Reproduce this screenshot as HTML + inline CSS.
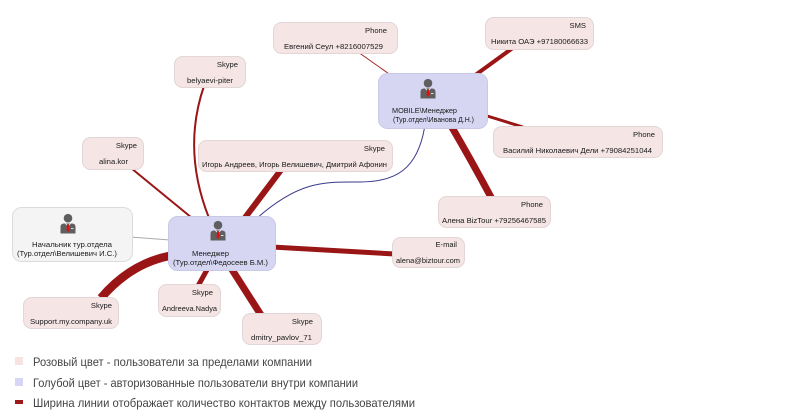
<!DOCTYPE html>
<html><head><meta charset="utf-8"><style>
html,body{margin:0;padding:0;background:#fff;}
svg{display:block;}
text{font-family:"Liberation Sans","DejaVu Sans",sans-serif;}
.t{font-size:7.6px;fill:#1a1a1a;font-family:"DejaVu Sans","Liberation Sans",sans-serif;}
.lg{font-size:12px;fill:#444;}
</style></head><body>
<svg width="800" height="419" viewBox="0 0 800 419" xmlns="http://www.w3.org/2000/svg">
<defs>
<g id="person">
  <circle cx="0" cy="4.2" r="4.3" fill="#5f5f5f"/>
  <path d="M-7.5 19.5 L-7.5 13 Q-7.5 9.5 -4 9.5 L4 9.5 Q7.5 9.5 7.5 13 L7.5 19.5 Z" fill="#5f5f5f"/>
  <path d="M-2.6 9.5 L0 12 L2.6 9.5" fill="none" stroke="#fff" stroke-width="0.8"/>
  <polygon points="-0.9,10.5 0.9,10.5 1.5,16 0,18 -1.5,16" fill="#e01010"/>
  <rect x="3" y="14" width="2.5" height="0.8" fill="#fff"/>
</g>
</defs>

<!-- connectors -->
<g fill="none" stroke-linecap="butt">
  <line x1="358" y1="52" x2="392" y2="76" stroke="#a52222" stroke-width="1"/>
  <line x1="514" y1="47" x2="474" y2="76" stroke="#9a1616" stroke-width="4"/>
  <line x1="484" y1="115" x2="523" y2="127" stroke="#9a1616" stroke-width="3"/>
  <path d="M450 124 Q470 158 492 199" stroke="#9a1616" stroke-width="7"/>
  <path d="M425 125 C418 170 395 182 360 182 S300 180 256 219" stroke="#3a3a8c" stroke-width="1"/>
  <line x1="281" y1="170" x2="244" y2="219" stroke="#9a1616" stroke-width="6"/>
  <path d="M204 86 Q182 150 209 218" stroke="#9a1616" stroke-width="2"/>
  <line x1="131" y1="168" x2="192" y2="218" stroke="#9a1616" stroke-width="2"/>
  <line x1="130" y1="237" x2="170" y2="240" stroke="#aaaaaa" stroke-width="1"/>
  <line x1="272" y1="247" x2="395" y2="254" stroke="#9a1616" stroke-width="5"/>
  <path d="M101 298 Q130 264 169 256" stroke="#9a1616" stroke-width="8.5"/>
  <line x1="198" y1="286" x2="208" y2="268" stroke="#9a1616" stroke-width="5"/>
  <line x1="261" y1="315" x2="231" y2="268" stroke="#9a1616" stroke-width="7"/>
</g>

<!-- pink nodes -->
<g fill="#f5e5e5" stroke="#e2d6d6" stroke-width="1">
  <rect x="273.5" y="22.5" width="124" height="31" rx="8"/>
  <rect x="174.5" y="56.5" width="71" height="31" rx="8"/>
  <rect x="82.5" y="137.5" width="61" height="32" rx="8"/>
  <rect x="198.5" y="140.5" width="194" height="31" rx="8"/>
  <rect x="485.5" y="17.5" width="108" height="32" rx="8"/>
  <rect x="493.5" y="126.5" width="169" height="31" rx="8"/>
  <rect x="438.5" y="196.5" width="112" height="31" rx="8"/>
  <rect x="392.5" y="237.5" width="72" height="30" rx="8"/>
  <rect x="23.5" y="297.5" width="95" height="31" rx="8"/>
  <rect x="158.5" y="284.5" width="62" height="32" rx="8"/>
  <rect x="242.5" y="313.5" width="79" height="31" rx="8"/>
</g>

<!-- blue / grey nodes -->
<rect x="168.5" y="216.5" width="107" height="54" rx="9" fill="#d6d6f3" stroke="#c9c9e6"/>
<rect x="378.5" y="73.5" width="109" height="55" rx="9" fill="#d6d6f3" stroke="#c9c9e6"/>
<rect x="12.5" y="207.5" width="120" height="54" rx="9" fill="#f4f4f4" stroke="#dcdcdc"/>

<use href="#person" x="218" y="221"/>
<use href="#person" x="428" y="79"/>
<use href="#person" x="68" y="214"/>

<!-- pink node texts -->
<g class="t">
  <text x="387" y="33" text-anchor="end">Phone</text>
  <text x="284" y="49" textLength="99" lengthAdjust="spacingAndGlyphs">Евгений Сеул +8216007529</text>

  <text x="238" y="67" text-anchor="end">Skype</text>
  <text x="187" y="83" textLength="46" lengthAdjust="spacingAndGlyphs">belyaevi-piter</text>

  <text x="137" y="148" text-anchor="end">Skype</text>
  <text x="99" y="164" textLength="29" lengthAdjust="spacingAndGlyphs">alina.kor</text>

  <text x="385" y="151" text-anchor="end">Skype</text>
  <text x="202" y="167" textLength="185" lengthAdjust="spacingAndGlyphs">Игорь Андреев, Игорь Велишевич, Дмитрий Афонин</text>

  <text x="586" y="28" text-anchor="end">SMS</text>
  <text x="491" y="44" textLength="97" lengthAdjust="spacingAndGlyphs">Никита ОАЭ +97180066633</text>

  <text x="655" y="137" text-anchor="end">Phone</text>
  <text x="503" y="153" textLength="149" lengthAdjust="spacingAndGlyphs">Василий Николаевич Дели +79084251044</text>

  <text x="543" y="207" text-anchor="end">Phone</text>
  <text x="442" y="223" textLength="104" lengthAdjust="spacingAndGlyphs">Алена BizTour +79256467585</text>

  <text x="457" y="247" text-anchor="end">E-mail</text>
  <text x="396" y="263" textLength="64" lengthAdjust="spacingAndGlyphs">alena@biztour.com</text>

  <text x="112" y="308" text-anchor="end">Skype</text>
  <text x="30" y="324" textLength="82" lengthAdjust="spacingAndGlyphs">Support.my.company.uk</text>

  <text x="213" y="295" text-anchor="end">Skype</text>
  <text x="162" y="311" textLength="55" lengthAdjust="spacingAndGlyphs">Andreeva.Nadya</text>

  <text x="313" y="324" text-anchor="end">Skype</text>
  <text x="251" y="340" textLength="61" lengthAdjust="spacingAndGlyphs">dmitry_pavlov_71</text>

  <!-- person node texts -->
  <text x="192" y="256" textLength="37" lengthAdjust="spacingAndGlyphs">Менеджер</text>
  <text x="173" y="265" textLength="95" lengthAdjust="spacingAndGlyphs">(Тур.отдел\Федосеев Б.М.)</text>

  <text x="392" y="113" textLength="65" lengthAdjust="spacingAndGlyphs">MOBILE\Менеджер</text>
  <text x="393" y="122" textLength="81" lengthAdjust="spacingAndGlyphs">(Тур.отдел\Иванова Д.Н.)</text>

  <text x="32" y="247" textLength="80" lengthAdjust="spacingAndGlyphs">Начальник тур.отдела</text>
  <text x="17" y="256" textLength="100" lengthAdjust="spacingAndGlyphs">(Тур.отдел\Велишевич И.С.)</text>
</g>

<!-- legend -->
<rect x="15" y="357" width="8" height="8" fill="#f5e2e2"/>
<rect x="15" y="378" width="8" height="8" fill="#d5d5f5"/>
<rect x="15" y="400" width="8" height="4" fill="#a01818"/>
<g class="lg">
  <text x="33" y="366" textLength="279" lengthAdjust="spacingAndGlyphs">Розовый цвет - пользователи за пределами компании</text>
  <text x="33" y="387" textLength="325" lengthAdjust="spacingAndGlyphs">Голубой цвет - авторизованные пользователи внутри компании</text>
  <text x="33" y="407" textLength="382" lengthAdjust="spacingAndGlyphs">Ширина линии отображает количество контактов между пользователями</text>
</g>
</svg>
</body></html>
